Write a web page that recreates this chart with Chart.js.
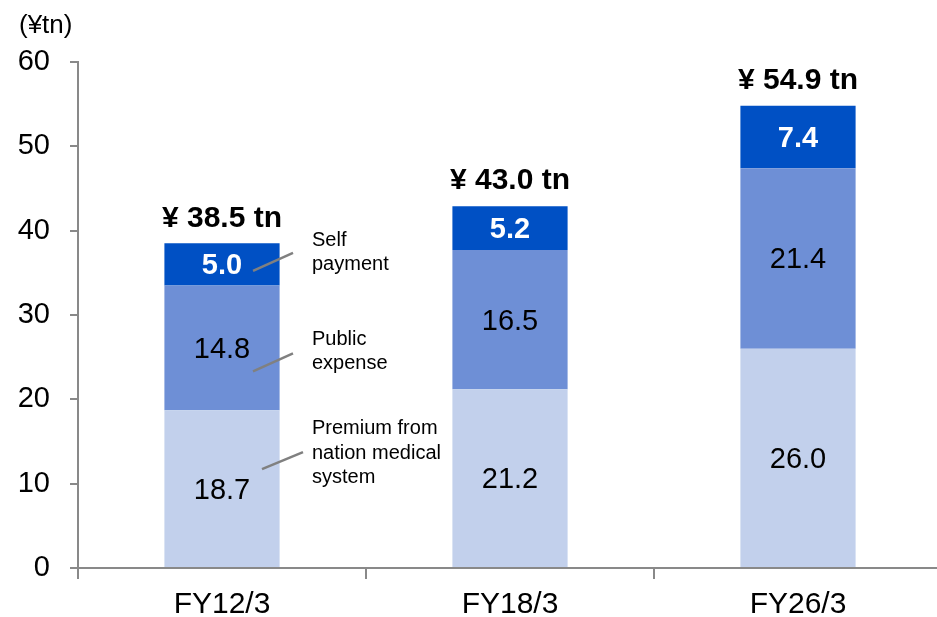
<!doctype html>
<html lang="en">
  <head>
    <meta charset="utf-8">
    <title>Medical expenses</title>
    <script src="https://cdn.jsdelivr.net/npm/chart.js"></script>
    <style>
      html, body { margin: 0; padding: 0; background: #fff; overflow: hidden; }
      #wrap { width: 945px; height: 617px; }
    </style>
  </head>
  <body>
    <div id="wrap">
      <canvas id="myChart" width="945" height="617"></canvas>
    </div>
    <script>
      // data
      var categories = ["FY12/3", "FY18/3", "FY26/3"];
      var premium = [18.7, 21.2, 26.0];
      var publicExpense = [14.8, 16.5, 21.4];
      var selfPayment = [5.0, 5.2, 7.4];
      var totals = [38.5, 43.0, 54.9];
      var yTicks = [0, 10, 20, 30, 40, 50, 60];
      var seriesNames = ["Premium from\nnation medical\nsystem", "Public\nexpense", "Self\npayment"];

      var FONT = "'Liberation Sans', Arial, sans-serif";
      var AXIS = "#898989";

      // value labels, totals and the callouts next to the first bar
      const labelsPlugin = {
        id: "labels",
        afterDatasetsDraw(chart) {
          const ctx = chart.ctx;
          ctx.save();
          ctx.textAlign = "center";
          ctx.textBaseline = "middle";
          chart.data.datasets.forEach(function (ds, i) {
            const meta = chart.getDatasetMeta(i);
            meta.data.forEach(function (bar, j) {
              const cy = (bar.y + bar.base) / 2;
              if (i == 2) {
                ctx.fillStyle = "#fff";
                ctx.font = "bold 29px " + FONT;
              } else {
                ctx.fillStyle = "#000";
                ctx.font = "29px " + FONT;
              }
              ctx.fillText(ds.data[j].toFixed(1), bar.x, cy + 2);
            });
          });
          // totals
          const top = chart.getDatasetMeta(2);
          ctx.fillStyle = "#000";
          ctx.font = "bold 30px " + FONT;
          top.data.forEach(function (bar, j) {
            ctx.fillText("\u00a5 " + totals[j].toFixed(1) + " tn", bar.x, bar.y - 25);
          });

          // callouts
          const callouts = [
            { line: [40, -19.5, 81, -36.5], text: [-60, -35, -11] },
            { line: [31, 23.5, 71, 5.5], text: [-8, 16] },
            { line: [31, 6.5, 71, -11.5], text: [-24, 0] }
          ];
          ctx.textAlign = "left";
          ctx.font = "20px " + FONT;
          ctx.strokeStyle = "#808080";
          ctx.lineWidth = 2.5;
          callouts.forEach(function (c, i) {
            const bar = chart.getDatasetMeta(i).data[0];
            const cy = (bar.y + bar.base) / 2;
            ctx.beginPath();
            ctx.moveTo(bar.x + c.line[0], cy + c.line[1]);
            ctx.lineTo(bar.x + c.line[2], cy + c.line[3]);
            ctx.stroke();
            const lines = seriesNames[i].split("\n");
            lines.forEach(function (t, k) {
              ctx.fillText(t, bar.x + 90, cy + c.text[k]);
            });
          });

          // unit
          ctx.font = "26px " + FONT;
          ctx.fillText("(\u00a5tn)", 19, 26);
          ctx.restore();
        }
      };

      const ctx = document.getElementById("myChart");
      const myChart = new Chart(ctx, {
        type: "bar",
        data: {
          labels: categories,
          datasets: [
            { label: "Premium", data: premium, backgroundColor: "#c2d0ec" },
            { label: "Public expense", data: publicExpense, backgroundColor: "#6e8fd6" },
            { label: "Self payment", data: selfPayment, backgroundColor: "#0050c4" }
          ]
        },
        options: {
          responsive: false,
          animation: false,
          layout: { padding: { top: 62, right: 3, left: 0, bottom: 0 } },
          datasets: { bar: { categoryPercentage: 1, barPercentage: 0.4, borderWidth: 0 } },
          plugins: { legend: { display: false }, tooltip: { enabled: false } },
          scales: {
            x: {
              stacked: true,
              afterFit: function (s) { s.height = 49; },
              grid: { offset: true, drawOnChartArea: false, tickLength: 11, color: AXIS, lineWidth: 2 },
              border: { color: AXIS, width: 2 },
              ticks: { color: "#000", padding: 8, font: { family: FONT, size: 30 } }
            },
            y: {
              stacked: true,
              min: 0,
              max: 60,
              afterFit: function (s) { s.width = 78; },
              afterBuildTicks: function (s) { s.ticks = yTicks.map(function (v) { return { value: v }; }); },
              grid: { drawOnChartArea: false, tickLength: 8, color: AXIS, lineWidth: 2 },
              border: { color: AXIS, width: 2 },
              ticks: { color: "#000", padding: 20, font: { family: FONT, size: 29 } }
            }
          }
        },
        plugins: [labelsPlugin]
      });
    </script>
  </body>
</html>
